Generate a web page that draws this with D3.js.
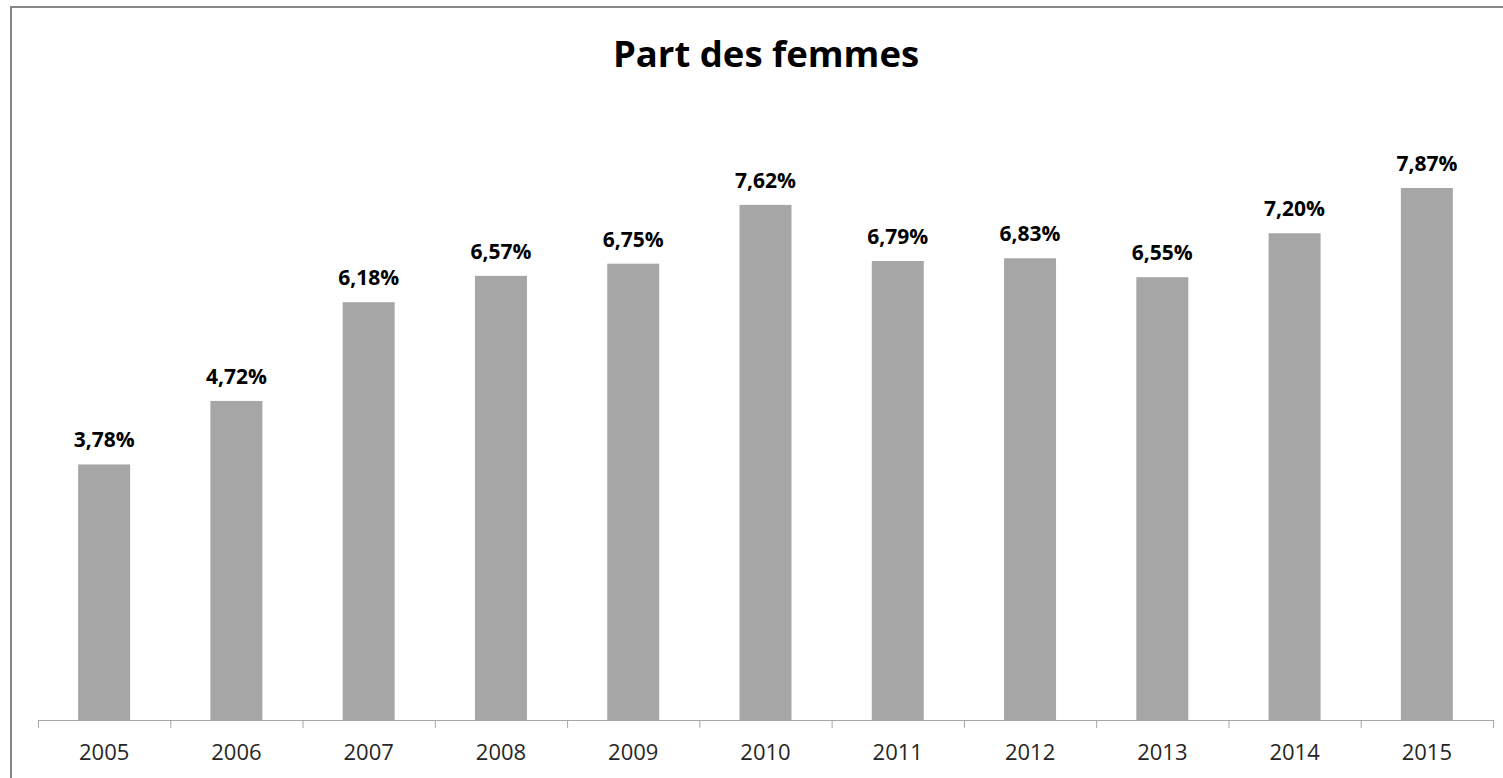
<!DOCTYPE html>
<html>
<head>
<meta charset="utf-8">
<script src="https://cdn.jsdelivr.net/npm/d3@7"></script>
<style>
  body { margin: 0; background: #fff; }
  svg { display: block; font-family: "Open Sans", sans-serif; }
</style>
</head>
<body>
<svg></svg>
<script>
let years = ["2005", "2006", "2007", "2008", "2009", "2010", "2011", "2012", "2013", "2014", "2015"]
let shares = [3.78, 4.72, 6.18, 6.57, 6.75, 7.62, 6.79, 6.83, 6.55, 7.20, 7.87]
let title = "Part des femmes"

let width = 1503
let height = 778
let left = 38
let right = 1493
let baseline = 720

let svg = d3.select('svg')
  .attr('width', width)
  .attr('height', height)

// outer frame, only top and left edges are visible in the picture
svg.append('rect')
   .attr('x', 11)
   .attr('y', 7)
   .attr('width', width + 20)
   .attr('height', height + 20)
   .attr('fill', 'none')
   .attr('stroke', '#878787')
   .attr('stroke-width', 2)

svg.append('text')
   .attr('x', 766)
   .attr('y', 67)
   .attr('text-anchor', 'middle')
   .attr('font-size', 36.5)
   .attr('font-weight', 'bold')
   .attr('fill', '#000')
   .text(title)

let xScale = d3.scaleBand()
  .domain(years)
  .range([left, right])
  .paddingInner(0.607)
  .paddingOuter(0.3035)

let yScale = d3.scaleLinear()
  .domain([0, 9])
  .range([baseline, baseline - 9 * 67.6])

svg.selectAll('rect.bar')
   .data(years)
   .enter()
   .append('rect')
   .attr('class', 'bar')
   .attr('x', d => xScale(d))
   .attr('y', (d, i) => yScale(shares[i]))
   .attr('width', xScale.bandwidth())
   .attr('height', (d, i) => baseline - yScale(shares[i]))
   .attr('fill', '#a6a6a6')

let fmt = v => v.toFixed(2).replace('.', ',') + '%'

svg.selectAll('text.value')
   .data(years)
   .enter()
   .append('text')
   .attr('class', 'value')
   .attr('x', d => xScale(d) + xScale.bandwidth() / 2)
   .attr('y', (d, i) => yScale(shares[i]) - 17)
   .attr('text-anchor', 'middle')
   .attr('font-size', 21)
   .attr('font-weight', 'bold')
   .attr('fill', '#000')
   .text((d, i) => fmt(shares[i]))

// ticks sit between the categories
let boundScale = d3.scaleLinear()
  .domain([0, years.length])
  .range([left, right])

let tickAxis = svg.append('g')
   .attr('transform', `translate(0, ${baseline})`)
   .call(d3.axisBottom(boundScale)
           .tickValues(d3.range(years.length + 1))
           .tickFormat('')
           .tickSize(8)
           .tickSizeOuter(0))
tickAxis.select('.domain').attr('stroke', '#a6a6a6')
tickAxis.selectAll('.tick line').attr('stroke', '#a6a6a6')

let labelAxis = svg.append('g')
   .attr('transform', `translate(0, ${baseline})`)
   .call(d3.axisBottom(xScale).tickSize(0))
labelAxis.select('.domain').remove()
labelAxis.selectAll('text')
   .attr('y', 40)
   .attr('dy', 0)
   .attr('font-size', 22)
   .attr('font-family', '"Open Sans", sans-serif')
   .attr('fill', '#262626')
</script>
</body>
</html>
